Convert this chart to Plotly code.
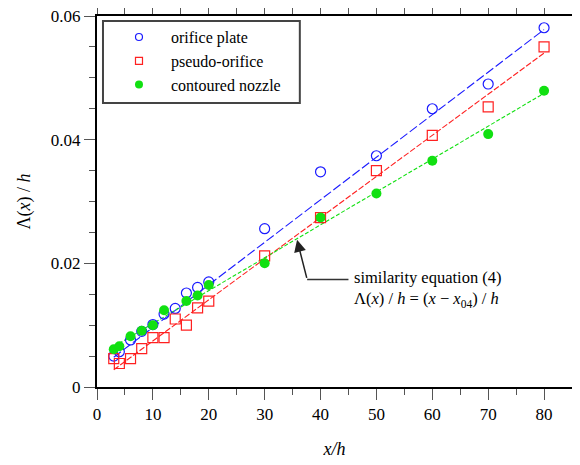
import plotly.graph_objects as go

# ---- data ----
x_orifice = [3, 4, 6, 8, 10, 12, 14, 16, 18, 20, 30, 40, 50, 60, 70, 80]
y_orifice = [0.0050, 0.0057, 0.0076, 0.0090, 0.0101, 0.0118, 0.0127, 0.0152, 0.0161, 0.0170,
             0.0256, 0.0348, 0.0374, 0.0450, 0.0490, 0.0581]

x_pseudo = [3, 4, 6, 8, 10, 12, 14, 16, 18, 20, 30, 40, 50, 60, 70, 80]
y_pseudo = [0.0046, 0.0038, 0.0046, 0.0062, 0.0080, 0.0080, 0.0110, 0.0100, 0.0128, 0.0139,
            0.0212, 0.0274, 0.0350, 0.0407, 0.0453, 0.0550]

x_contoured = [3, 4, 6, 8, 10, 12, 16, 18, 20, 30, 40, 50, 60, 70, 80]
y_contoured = [0.0061, 0.0066, 0.0082, 0.0091, 0.0100, 0.0124, 0.0139, 0.0148, 0.0165,
               0.0200, 0.0274, 0.0313, 0.0366, 0.0409, 0.0479]

# similarity-equation fit lines (end points)
fit_x = [3, 80]
fit_orifice = [0.00482, 0.0578]
fit_pseudo = [0.00279, 0.0540]
fit_contoured = [0.00654, 0.0475]

series_names = ["orifice plate", "pseudo-orifice", "contoured nozzle"]
x_ticks = [0, 10, 20, 30, 40, 50, 60, 70, 80]
y_ticks = [0, 0.02, 0.04, 0.06]
y_ticktext = ["0", "0.02", "0.04", "0.06"]

# annotation anchor points (data units)
arrow_tip = (35.8, 0.0238)
arrow_elbow = (37.6, 0.0174)
leader_end = 45.0
label_pos = (45.7, 0.0159)

BLUE = "#1a1aff"
RED = "#ff2020"
GREEN = "#11e011"
FONT = "Liberation Serif, Times New Roman, DejaVu Serif, serif"

fig = go.Figure()

# fit lines
fig.add_trace(go.Scatter(x=fit_x, y=fit_orifice, mode="lines", showlegend=False,
                         line=dict(color=BLUE, width=1.1, dash="9px,3px")))
fig.add_trace(go.Scatter(x=fit_x, y=fit_pseudo, mode="lines", showlegend=False,
                         line=dict(color=RED, width=1.1, dash="6px,2px")))
fig.add_trace(go.Scatter(x=fit_x, y=fit_contoured, mode="lines", showlegend=False,
                         line=dict(color=GREEN, width=1.1, dash="4px,2px")))

# data points
fig.add_trace(go.Scatter(x=x_orifice, y=y_orifice, mode="markers", showlegend=False,
                         marker=dict(symbol="circle-open", size=10, color=BLUE,
                                     line=dict(width=1.2, color=BLUE))))
fig.add_trace(go.Scatter(x=x_pseudo, y=y_pseudo, mode="markers", showlegend=False,
                         marker=dict(symbol="square-open", size=10, color=RED,
                                     line=dict(width=1.2, color=RED))))
fig.add_trace(go.Scatter(x=x_contoured, y=y_contoured, mode="markers", showlegend=False,
                         marker=dict(symbol="circle", size=10, color=GREEN,
                                     line=dict(width=0))))

# legend entries (smaller symbols like the reference legend)
leg_styles = [
    dict(symbol="circle-open", size=7, color=BLUE, line=dict(width=1.2, color=BLUE)),
    dict(symbol="square-open", size=7, color=RED, line=dict(width=1.2, color=RED)),
    dict(symbol="circle", size=8, color=GREEN, line=dict(width=0)),
]
for name, mk in zip(series_names, leg_styles):
    fig.add_trace(go.Scatter(x=[None], y=[None], mode="markers",
                             name="\u00a0\u00a0\u00a0" + name, marker=mk, showlegend=True))

axis_common = dict(
    showline=True, linecolor="black", linewidth=2, mirror="allticks",
    ticks="outside", ticklen=11, tickwidth=1.3, tickcolor="#555555",
    showgrid=False, zeroline=False, automargin=False, ticklabeloverflow="allow",
    tickfont=dict(family=FONT, size=17, color="black"),
)

fig.update_xaxes(range=[0, 85], tickvals=x_ticks, ticktext=[str(v) for v in x_ticks],
                 minor=dict(dtick=5, tick0=0, ticks="outside", ticklen=6, tickwidth=1.3,
                            tickcolor="#555555", showgrid=False),
                 title=dict(text="<i>x/h</i>", font=dict(family=FONT, size=18, color="black"),
                            standoff=19),
                 **axis_common)
fig.update_yaxes(range=[0, 0.06], tickvals=y_ticks, ticktext=y_ticktext,
                 minor=dict(dtick=0.005, tick0=0, ticks="outside", ticklen=6, tickwidth=1.3,
                            tickcolor="#555555", showgrid=False),
                 title=dict(text="Λ(<i>x</i>) / <i>h</i>",
                            font=dict(family=FONT, size=18, color="black"), standoff=16),
                 **axis_common)

# legend box
fig.add_shape(type="rect", xref="paper", yref="paper", x0=0.0126, x1=0.427, y0=0.7655, y1=0.9865,
              line=dict(color="#444444", width=2), fillcolor="white", layer="below")

# leader line + arrow
fig.add_shape(type="line", xref="x", yref="y", x0=arrow_elbow[0], y0=arrow_elbow[1],
              x1=leader_end, y1=arrow_elbow[1], line=dict(color="#333333", width=1.5))
fig.add_annotation(x=arrow_tip[0], y=arrow_tip[1], ax=arrow_elbow[0], ay=arrow_elbow[1],
                   axref="x", ayref="y", xref="x", yref="y", text="", showarrow=True,
                   arrowhead=2, arrowsize=1.6, arrowwidth=1.5, arrowcolor="#222222")
fig.add_annotation(x=label_pos[0], y=label_pos[1], xref="x", yref="y", xanchor="left",
                   yanchor="middle", align="left", showarrow=False,
                   text="similarity equation (4)<br>Λ(<i>x</i>) / <i>h</i> = (<i>x</i> − <i>x</i><sub>04</sub>) / <i>h</i>",
                   font=dict(family=FONT, size=16.5, color="black"))

# the page body adds an 8 px offset, so left/top margins are reduced by 8 px
fig.update_layout(
    width=580, height=465,
    margin=dict(l=89, r=16, t=8, b=86, autoexpand=False),
    paper_bgcolor="white", plot_bgcolor="white",
    font=dict(family=FONT, size=16, color="black"),
    legend=dict(x=0.0463, y=0.989, xanchor="left", yanchor="top", bgcolor="rgba(0,0,0,0)",
                borderwidth=0, font=dict(family=FONT, size=16, color="black"),
                tracegroupgap=0, itemsizing="trace"),
    showlegend=True,
)

fig.write_html("out.html")
